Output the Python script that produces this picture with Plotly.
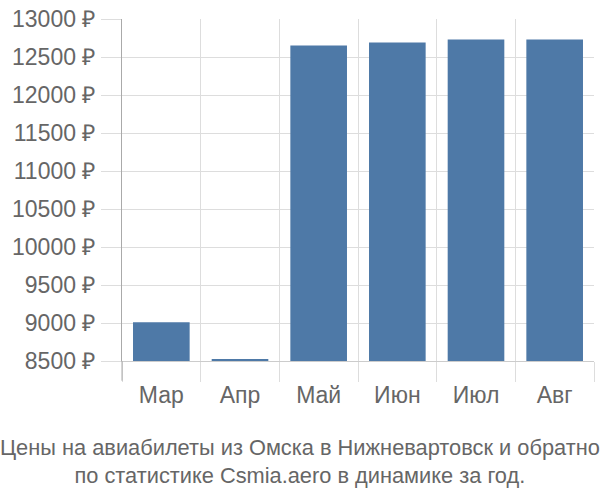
import plotly.graph_objects as go

months = ["Мар", "Апр", "Май", "Июн", "Июл", "Авг"]
prices = [9010, 8520, 12650, 12690, 12730, 12730]
y_ticks = [8500, 9000, 9500, 10000, 10500, 11000, 11500, 12000, 12500, 13000]
y_labels = [f"{v} ₽" for v in y_ticks]
base_value = 8500
title_lines = ["Цены на авиабилеты из Омска в Нижневартовск и обратно",
               "по статистике Csmia.aero в динамике за год."]

PL, PR, PT, PB = 122, 594, 14, 361
pw, ph = PR - PL, PB - PT

fig = go.Figure(go.Bar(
    x=months, y=[p - base_value for p in prices], base=base_value,
    marker=dict(color="#4e79a7", line=dict(width=0)),
    hoverinfo="skip",
))

fig.update_layout(
    width=600, height=500,
    margin=dict(l=PL, r=600 - PR, t=PT, b=500 - PB),
    paper_bgcolor="white", plot_bgcolor="white",
    bargap=0.28,
    showlegend=False,
    font=dict(family="Liberation Sans, Arial, sans-serif", color="#666666"),
    xaxis=dict(
        type="category", tickson="boundaries",
        showgrid=True, gridcolor="#dddddd", gridwidth=1,
        ticks="outside", ticklen=20, tickcolor="#dddddd",
        tickfont=dict(size=23, color="#666666"),
        ticklabelstandoff=13,
        showline=True, linecolor="#cccccc", linewidth=1,
        zeroline=False, fixedrange=True,
    ),
    yaxis=dict(
        range=[8500, 13000],
        tickvals=y_ticks, ticktext=y_labels,
        showgrid=True, gridcolor="#dddddd", gridwidth=1,
        ticks="outside", ticklen=20, tickcolor="#dddddd",
        tickfont=dict(size=23, color="#666666"),
        ticklabelstandoff=1,
        showline=True, linecolor="#aaaaaa", linewidth=1,
        zeroline=False, fixedrange=True,
    ),
    annotations=[
        dict(text="<br>".join(title_lines),
             x=(300 - PL) / pw, xref="paper",
             y=-(462.5 - PB) / ph, yref="paper",
             showarrow=False, xanchor="center", yanchor="middle",
             font=dict(size=21.8, color="#666666")),
    ],
    shapes=[
        dict(type="line", xref="paper", yref="paper", x0=0, x1=0, y0=0, y1=-20 / ph,
             line=dict(color="#aaaaaa", width=1)),
    ],
)

fig.write_html("out.html")
